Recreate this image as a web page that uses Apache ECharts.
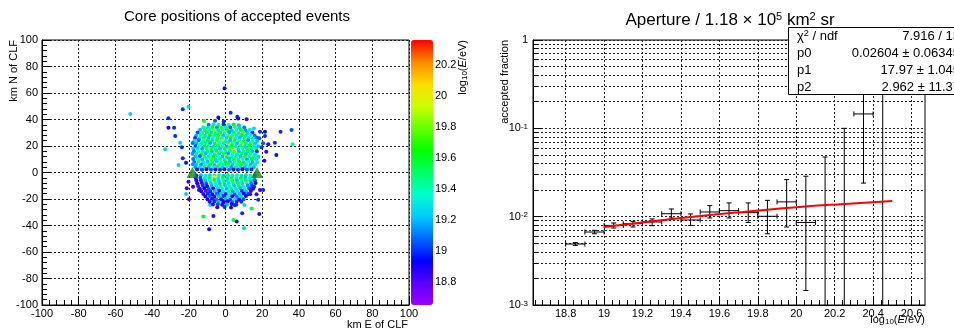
<!DOCTYPE html>
<html><head><meta charset="utf-8">
<script src="https://cdn.jsdelivr.net/npm/echarts@6/dist/echarts.min.js"></script>
<style>html,body{margin:0;padding:0;background:#fff}#c{width:954px;height:332px}</style>
</head><body><div id="c"></div>
<script>
// ---------------- DATA ----------------
// Detector sites (km E, km N)
const sitePositions = [[-18.0, 0.0], [17.2, 0.0]];
// Events: [km E of CLF, km N of CLF, log10(E/eV)]
const outlierEvents = [
[-51.9,44.2,19.25],[-23.3,47.7,19.0],[-20.2,49.7,19.25],[-0.5,63.5,18.95],[-31.1,40.9,19.0],[-31.1,33.8,18.9],
[-28.0,33.8,19.0],[-27.4,27.5,19.0],[-24.7,22.5,19.25],[-23.8,19.0,19.0],[-32.9,17.5,19.25],[-23.3,10.7,19.0],
[-25.6,5.7,19.25],[-21.5,7.4,18.95],[2.8,45.1,19.0],[6.4,42.1,19.0],[6.9,40.8,18.95],[-3.9,41.6,18.95],
[-1.0,38.4,19.0],[-11.7,38.9,19.6],[-5.7,39.1,19.05],[11.5,40.1,18.85],[15.5,33.3,19.25],[18.8,30.8,19.0],
[21.5,30.8,18.95],[21.5,27.5,19.0],[18.4,25.8,19.05],[30.0,30.8,19.0],[36.0,32.1,19.05],[36.5,21.3,19.45],
[26.9,22.5,19.0],[20.5,22.0,19.05],[23.3,21.3,18.85],[27.7,13.2,18.95],[22.2,15.7,18.85],[19.6,19.0,19.0],
[17.8,11.9,19.25],[21.2,8.9,18.85],[8.8,28.3,20.3],
[-21.1,-11.9,18.85],[-20.2,-6.9,18.85],[-21.5,-16.2,19.25],[-17.7,-10.7,18.85],[-14.5,-13.2,19.0],[-19.9,-20.2,18.85],
[-8.4,-24.5,19.25],[-6.6,-32.8,18.85],[-12.1,-33.3,19.6],[-8.9,-42.9,18.95],[-1.0,-22.8,19.0],[4.9,-24.5,19.0],
[9.1,-30.8,19.0],[10.3,-24.5,19.25],[14.2,-27.1,19.55],[18.4,-31.3,18.85],[4.3,-35.8,19.55],[6.1,-37.0,18.85],
[10.1,-42.1,19.25],[18.8,-13.2,18.85],[20.5,-13.2,19.0],[15.6,-10.7,19.0],[16.9,-16.5,18.85],[17.8,-20.5,19.0],
[13.4,-16.5,18.85],[15.1,-5.7,19.55],[-3.9,-16.2,18.85]
];
const upperCoreEvents = [
[-9.2,36.0,19.1],[-6.5,36.4,19.3],[-3.8,35.8,19.5],[-1.1,36.3,19.0],[1.7,35.9,19.35],[4.4,36.2,19.6],[7.3,35.7,19.2],
[-12.1,34.1,19.45],[-9.6,33.8,19.25],[-7.2,34.3,19.6],[-4.7,34.0,19.15],[-2.3,33.7,19.7],[0.2,34.2,19.3],[2.6,33.9,19.05],[5.1,34.4,19.5],[7.6,33.8,19.25],[10.2,34.0,19.1],
[-13.8,32.2,19.2],[-11.3,31.9,19.55],[-8.8,32.4,19.35],[-6.4,32.0,19.8],[-3.9,31.8,19.25],[-1.5,32.3,19.45],[1.0,32.1,19.6],[3.4,31.7,19.2],[5.9,32.2,19.4],[8.4,32.0,19.65],[10.9,31.8,19.15],[13.2,32.3,19.3],
[-15.2,30.1,19.05],[-12.7,29.8,19.3],[-10.2,30.3,19.6],[-7.8,30.0,19.25],[-5.3,29.7,19.5],[-2.9,30.2,19.7],[-0.4,29.9,19.35],[2.1,30.4,19.15],[4.6,30.0,19.55],[7.0,29.8,19.3],[9.5,30.3,19.75],[12.0,29.9,19.2],[14.6,30.1,19.0],
[-16.0,28.0,19.2],[-13.6,28.3,19.45],[-11.1,27.8,19.25],[-8.6,28.1,19.65],[-6.2,27.9,19.3],[-3.7,28.4,19.55],[-1.3,28.0,19.2],[1.2,27.7,19.75],[3.7,28.2,19.4],[6.1,27.9,19.3],[8.6,28.1,19.6],[11.1,27.8,19.25],[13.5,28.3,19.45],[15.9,28.0,19.1],
[-16.6,26.1,19.0],[-14.2,25.8,19.3],[-11.8,26.3,19.55],[-9.3,26.0,19.2],[-6.9,25.7,19.4],[-4.4,26.2,19.7],[-2.0,25.9,19.35],[0.5,26.4,19.25],[2.9,26.0,19.6],[5.4,25.8,19.45],[7.8,26.3,19.2],[10.3,25.9,19.5],[12.7,26.1,19.3],[15.1,25.8,19.25],[17.2,26.2,19.05],
[-17.0,24.0,19.3],[-14.6,24.3,19.1],[-12.2,23.8,19.4],[-9.7,24.1,19.65],[-7.3,23.9,19.25],[-4.8,24.4,19.5],[-2.4,24.0,19.85],[0.1,23.7,19.3],[2.5,24.2,19.2],[5.0,23.9,19.55],[7.4,24.1,19.35],[9.9,23.8,19.6],[12.3,24.3,19.15],[14.8,24.0,19.4],[17.3,23.8,19.2],
[-15.8,22.1,19.2],[-13.3,21.8,19.5],[-10.9,22.3,19.3],[-8.4,22.0,19.15],[-5.9,21.7,19.6],[-3.5,22.2,19.35],[-1.0,21.9,19.25],[1.4,22.4,19.7],[3.9,22.0,19.45],[6.3,21.8,19.2],[8.8,22.3,19.8],[11.2,21.9,19.3],[13.7,22.1,19.5],[16.1,21.8,19.2],[-17.9,22.2,19.1],
[-16.4,20.0,19.05],[-14.0,20.3,19.35],[-11.5,19.8,19.6],[-9.1,20.1,19.4],[-6.6,19.9,19.25],[-4.2,20.4,19.55],[-1.7,20.0,19.4],[0.8,19.7,19.2],[3.2,20.2,19.6],[5.7,19.9,19.3],[8.1,20.1,19.5],[10.6,19.8,19.25],[13.0,20.3,19.65],[15.5,20.0,19.35],[17.8,19.8,19.2],
[-15.2,18.1,19.25],[-12.8,17.8,19.15],[-10.3,18.3,19.45],[-7.9,18.0,19.7],[-5.4,17.7,19.3],[-3.0,18.2,19.2],[-0.5,17.9,19.6],[2.0,18.4,19.45],[4.4,18.0,19.9],[6.9,17.8,19.25],[9.3,18.3,19.35],[11.8,17.9,19.55],[14.2,18.1,19.3],[16.7,17.8,19.6],[-17.6,18.2,19.25],
[-17.2,16.0,19.1],[-14.8,16.3,19.4],[-12.3,15.8,19.3],[-9.9,16.1,19.55],[-7.4,15.9,19.2],[-5.0,16.4,19.65],[-2.5,16.0,19.35],[-0.1,15.7,19.3],[2.4,16.2,19.5],[4.8,15.9,19.75],[7.3,16.1,19.2],[9.7,15.8,19.4],[12.2,16.3,19.6],[14.6,16.0,19.2],[17.1,15.8,19.0],
[-15.8,14.1,19.3],[-13.3,13.8,19.6],[-10.9,14.3,19.2],[-8.4,14.0,19.35],[-5.9,13.7,19.5],[-3.5,14.2,19.25],[-1.0,13.9,19.7],[1.4,14.4,19.15],[3.9,14.0,19.4],[6.3,13.8,19.3],[8.8,14.3,19.55],[11.2,13.9,19.2],[13.7,14.1,19.45],[16.1,13.8,19.3],[-18.0,14.2,19.15],
[-16.4,12.0,19.2],[-14.0,12.3,19.05],[-11.5,11.8,19.5],[-9.1,12.1,19.3],[-6.6,11.9,19.65],[-4.2,12.4,19.4],[-1.7,12.0,19.2],[0.8,11.7,19.6],[3.2,12.2,19.35],[5.7,11.9,19.45],[8.1,12.1,19.2],[10.6,11.8,19.7],[13.0,12.3,19.3],[15.5,12.0,19.5],[17.9,11.8,19.25],
[-15.2,10.1,19.35],[-12.8,9.8,19.2],[-10.3,10.3,19.4],[-7.9,10.0,19.75],[-5.4,9.7,19.25],[-3.0,10.2,19.5],[-0.5,9.9,19.3],[2.0,10.4,19.2],[4.4,10.0,19.55],[6.9,9.8,19.3],[9.3,10.3,19.4],[11.8,9.9,19.15],[14.2,10.1,19.6],[16.7,9.8,19.3],[-17.6,10.2,19.1],
[-17.0,8.0,19.1],[-14.6,8.3,19.45],[-12.2,7.8,19.3],[-9.7,8.1,19.2],[-7.3,7.9,19.55],[-4.8,8.4,19.25],[-2.4,8.0,19.4],[0.1,7.7,19.65],[2.5,8.2,19.2],[5.0,7.9,19.35],[7.4,8.1,19.6],[9.9,7.8,19.25],[12.3,8.3,19.4],[14.8,8.0,19.2],[17.3,7.8,19.3],
[-15.8,6.1,19.25],[-13.3,5.8,19.15],[-10.9,6.3,19.35],[-8.4,6.0,19.6],[-5.9,5.7,19.2],[-3.5,6.2,19.45],[-1.0,5.9,19.3],[1.4,6.4,19.55],[3.9,6.0,19.25],[6.3,5.8,19.4],[8.8,6.3,19.7],[11.2,5.9,19.3],[13.7,6.1,19.2],[16.1,5.8,19.5],[-17.8,6.2,19.15],
[-16.5,4.2,19.15],[-14.0,3.9,19.3],[-11.6,4.4,19.5],[-9.1,4.1,19.2],[-6.7,3.8,19.35],[-4.2,4.3,19.6],[-1.8,4.0,19.25],[0.7,4.5,19.4],[3.1,4.1,19.15],[5.6,3.9,19.5],[8.0,4.4,19.3],[10.5,4.0,19.2],[12.9,4.2,19.45],[15.4,3.9,19.2],
[-15.5,2.3,18.95],[-12.8,2.0,19.0],[-10.4,2.4,18.9],[-7.9,2.1,19.05],[-5.5,2.3,18.95],[-3.0,2.0,19.0],[-0.6,2.4,18.85],[1.9,2.1,19.1],[4.3,2.3,18.95],[6.8,2.0,19.0],[9.2,2.4,18.9],[11.7,2.1,19.05],[14.1,2.3,19.0]
];
const lowerCoreEvents = [
[-15.8,-2.3,19.0],[-13.4,-2.0,19.2],[-10.9,-2.4,19.35],[-8.5,-2.1,19.25],[-6.0,-2.3,19.5],[-3.6,-2.0,19.4],[-1.1,-2.4,19.2],[1.3,-2.1,19.55],[3.8,-2.3,19.3],[6.2,-2.0,19.45],[8.7,-2.4,19.25],[11.1,-2.1,19.6],[13.6,-2.3,19.3],[16.0,-2.0,19.1],
[-16.2,-4.2,18.9],[-13.7,-3.9,19.05],[-11.3,-4.4,19.3],[-8.8,-4.1,19.55],[-6.0,-3.5,19.95],[-3.9,-4.3,19.3],[-1.5,-4.0,19.6],[1.0,-4.4,19.25],[3.4,-4.1,19.5],[5.9,-3.9,19.35],[8.3,-4.3,19.65],[10.8,-4.0,19.2],[13.2,-4.2,19.4],[15.7,-3.9,19.25],
[-15.9,-6.1,18.85],[-13.4,-5.8,19.0],[-11.0,-6.3,19.2],[-8.5,-6.0,19.35],[-6.1,-5.7,19.6],[-3.6,-6.2,19.25],[-1.2,-5.9,19.45],[1.3,-6.4,19.3],[3.7,-6.0,19.7],[6.2,-5.8,19.2],[8.6,-6.3,19.4],[11.1,-5.9,19.55],[13.5,-6.1,19.25],[16.0,-5.8,19.05],
[-15.4,-8.2,18.9],[-12.9,-7.9,18.85],[-10.5,-8.4,19.05],[-8.0,-8.1,19.25],[-5.6,-7.8,19.4],[-3.1,-8.3,19.2],[-0.7,-8.0,19.55],[1.8,-8.4,19.3],[4.2,-8.1,19.45],[6.7,-7.9,19.6],[9.1,-8.3,19.25],[11.6,-8.0,19.35],[14.0,-8.2,19.1],[16.3,-7.9,18.95],
[-14.9,-10.1,18.8],[-12.4,-9.8,19.0],[-10.0,-10.3,18.9],[-7.5,-10.0,19.2],[-5.1,-9.7,19.3],[-2.6,-10.2,19.5],[-0.2,-9.9,19.25],[2.3,-10.4,19.4],[4.7,-10.0,19.2],[7.2,-9.8,19.55],[9.6,-10.3,19.3],[12.1,-9.9,19.15],[14.5,-10.1,19.0],
[-14.0,-12.2,18.85],[-11.6,-11.9,18.95],[-9.1,-12.4,19.05],[-6.7,-12.1,18.9],[-4.2,-11.8,19.25],[-1.8,-12.3,19.35],[0.7,-12.0,19.2],[3.1,-12.4,19.5],[5.6,-12.1,19.3],[8.0,-11.9,19.2],[10.5,-12.3,19.4],[12.9,-12.0,19.0],[15.0,-12.2,18.9],
[-13.2,-14.1,18.9],[-10.7,-13.8,18.8],[-8.3,-14.3,19.0],[-5.8,-14.0,19.2],[-3.4,-13.7,18.95],[-0.9,-14.2,19.3],[1.5,-13.9,19.45],[4.0,-14.4,19.15],[6.4,-14.0,19.3],[8.9,-13.8,19.0],[11.3,-14.3,19.2],[13.8,-14.0,18.85],
[-12.1,-16.2,18.85],[-9.7,-15.9,19.0],[-7.2,-16.4,18.9],[-4.8,-16.1,19.1],[-2.3,-15.8,19.25],[0.1,-16.3,18.95],[2.6,-16.0,19.3],[5.0,-16.4,19.05],[7.5,-16.1,19.2],[9.9,-15.9,18.9],[12.4,-16.2,19.0],
[-11.0,-18.1,18.9],[-8.5,-17.8,19.05],[-6.1,-18.3,18.85],[-3.6,-18.0,19.2],[-1.2,-17.7,19.0],[1.3,-18.2,19.35],[3.7,-17.9,18.95],[6.2,-18.4,19.1],[8.6,-18.0,19.25],[11.1,-17.8,18.9],
[-9.8,-20.2,18.95],[-7.3,-19.9,18.85],[-4.9,-20.4,19.1],[-2.4,-20.1,18.9],[0.0,-19.8,19.2],[2.5,-20.3,19.0],[4.9,-20.0,19.3],[7.4,-20.4,18.9],[9.8,-20.1,19.05],
[-8.6,-22.1,18.85],[-6.1,-21.8,19.0],[-3.7,-22.3,19.2],[-1.2,-22.0,18.95],[1.2,-21.7,18.9],[3.7,-22.2,19.1],[6.1,-21.9,18.85],[8.6,-22.1,19.0],
[-6.9,-24.2,18.9],[-4.2,-23.9,19.05],[-1.8,-24.4,18.85],[0.8,-24.1,19.2],[3.3,-23.8,18.95],[5.9,-24.3,19.0],
[-4.5,-26.3,18.85],[-0.5,-26.0,19.0],[3.0,-26.4,18.9]
];
const colorbarTicks = [18.8, 19.0, 19.2, 19.4, 19.6, 19.8, 20.0, 20.2];

// Aperture panel
const binCenters = [18.85, 18.95, 19.05, 19.15, 19.25, 19.35, 19.45, 19.55, 19.65, 19.75, 19.85, 19.95, 20.05, 20.15, 20.25, 20.35, 20.45];
const fracValues = [0.0049, 0.0067, 0.00796, 0.00832, 0.0087, 0.0108, 0.00917, 0.0113, 0.0117, 0.0111, 0.0101, 0.0147, 0.0086, 0, 0, 0.1455, 0];
const fracLow    = [0.00471, 0.00641, 0.00744, 0.00764, 0.0079, 0.00966, 0.00796, 0.00966, 0.00966, 0.0086, 0.0064, 0.00764, 0.00146, 0, 0, 0.024, 0];
const fracHigh   = [0.00509, 0.0070, 0.00848, 0.00885, 0.00942, 0.01222, 0.01074, 0.01334, 0.01432, 0.01432, 0.0153, 0.0263, 0.0287, 0.0474, 0.1, 1, 1];
const binHalfWidth = 0.05;
const fitX = [19.0, 19.25, 19.5, 19.75, 20.0, 20.25, 20.5];
const fitY = [0.00764, 0.00889, 0.01019, 0.01146, 0.01279, 0.01393, 0.0150];
const xTicksRight = [18.8, 19.0, 19.2, 19.4, 19.6, 19.8, 20.0, 20.2, 20.4, 20.6];
const statsLabels = ['χ{sup|2} / ndf', 'p0', 'p1', 'p2'];
const statsValues = ['7.916 / 13', '0.02604 ± 0.06345', '17.97 ± 1.045', '2.962 ± 11.37'];

// ---------------- CHART ----------------
const FONT = '"Liberation Sans", Arial, Helvetica, sans-serif';
const palette = ['#9a00ff', '#5a00ff', '#0000ff', '#0066ff', '#00ccff', '#00ffcc', '#00ff66', '#00ff00', '#66ff00', '#ccff00', '#ffdd00', '#ff8800', '#ff0000'];
const dotted = {type: [2, 2], color: '#222', width: 1};
const lbl = {color: '#000', fontSize: 11, fontFamily: FONT, showMinLabel: true, showMaxLabel: true};

const xMinorRight = [];
for (let k = 0; k <= 50; k++) {
  const v = +(18.64 + 0.04 * k).toFixed(2);
  const r = v / 0.2;
  if (Math.abs(r - Math.round(r)) > 1e-6) xMinorRight.push(v);
}
const yMinorLog = [];
[-3, -2, -1].forEach(e => { for (let m = 2; m <= 9; m++) yMinorLog.push(e + Math.log10(m)); });

const leftEvents = outlierEvents.concat(upperCoreEvents, lowerCoreEvents);
const errData = binCenters.map((x, i) => [x, fracValues[i], fracLow[i], fracHigh[i]]);
const fitData = fitX.map((x, i) => [x, fitY[i]]);

const chart = echarts.init(document.getElementById('c'));
const supRich = {sup: {fontSize: 8, fontFamily: FONT, verticalAlign: 'top', color: '#000'}};
const axLine = {show: true, onZero: false, lineStyle: {color: '#000'}};

const option = {
  animation: false,
  backgroundColor: '#fff',
  grid: [
    {left: 42, top: 40, width: 367, height: 265, show: true, borderColor: '#000', borderWidth: 1, backgroundColor: 'transparent', containLabel: false, outerBoundsMode: 'none'},
    {left: 411, top: 40, width: 22, height: 265, show: false, containLabel: false, outerBoundsMode: 'none'},
    {left: 533, top: 40, width: 392, height: 265, show: true, borderColor: '#000', borderWidth: 1, backgroundColor: 'transparent', containLabel: false, outerBoundsMode: 'none'}
  ],
  xAxis: [
    {gridIndex: 0, type: 'value', min: -100, max: 100, interval: 20, position: 'bottom',
     axisLine: axLine, axisTick: {show: true, inside: true, length: 9, lineStyle: {color: '#000'}},
     minorTick: {show: true, splitNumber: 5, length: 5, lineStyle: {color: '#000'}},
     splitLine: {show: true, lineStyle: dotted}, axisLabel: Object.assign({margin: 3}, lbl)},
    {gridIndex: 1, type: 'value', min: 0, max: 1, show: false},
    {gridIndex: 2, type: 'value', min: 18.63, max: 20.67, position: 'bottom',
     axisLine: axLine,
     axisTick: {show: true, inside: true, length: 9, customValues: xTicksRight, lineStyle: {color: '#000'}},
     splitLine: {show: true, lineStyle: dotted},
     axisLabel: Object.assign({margin: 3, customValues: xTicksRight, formatter: v => String(Math.round(v * 10) / 10)}, lbl)},
    {gridIndex: 2, type: 'value', min: 18.63, max: 20.67, position: 'bottom', offset: 0,
     axisLine: {show: false, onZero: false}, axisLabel: {show: false}, splitLine: {show: false},
     axisTick: {show: true, inside: true, length: 5, customValues: xMinorRight, lineStyle: {color: '#000'}}}
  ],
  yAxis: [
    {gridIndex: 0, type: 'value', min: -100, max: 100, interval: 20, position: 'left',
     axisLine: axLine, axisTick: {show: true, inside: true, length: 9, lineStyle: {color: '#000'}},
     minorTick: {show: true, splitNumber: 5, length: 5, lineStyle: {color: '#000'}},
     splitLine: {show: true, lineStyle: dotted}, axisLabel: Object.assign({margin: 4}, lbl)},
    {gridIndex: 1, type: 'value', min: 18.65, max: 20.36, position: 'right',
     axisLine: {show: false, onZero: false},
     axisTick: {show: true, inside: true, length: 8, customValues: colorbarTicks, lineStyle: {color: '#000'}},
     splitLine: {show: false},
     axisLabel: Object.assign({margin: 2, customValues: colorbarTicks, formatter: v => String(Math.round(v * 10) / 10)}, lbl)},
    {gridIndex: 2, type: 'log', logBase: 10, min: 0.001, max: 1, position: 'left',
     axisLine: axLine,
     axisTick: {show: true, inside: true, length: 10, lineStyle: {color: '#000'}},
     splitLine: {show: true, lineStyle: dotted},
     axisLabel: Object.assign({margin: 5, rich: supRich, formatter: v => {
        const e = Math.round(Math.log10(v));
        return e === 0 ? '1' : '10{sup|' + e + '}';
     }}, lbl)},
    {gridIndex: 2, type: 'value', min: -3, max: 0, position: 'left', offset: 0,
     axisLine: {show: false, onZero: false}, axisLabel: {show: false},
     axisTick: {show: true, inside: true, length: 5, customValues: yMinorLog, lineStyle: {color: '#000'}},
     splitLine: {show: true, lineStyle: dotted}}
  ],
  visualMap: [{
    type: 'continuous', min: 18.65, max: 20.36, dimension: 2, seriesIndex: 0,
    inRange: {color: palette}, orient: 'vertical', left: 411, top: 40,
    itemWidth: 22, itemHeight: 265, calculable: false, padding: 0, hoverLink: false
  }],
  series: [
    {type: 'scatter', xAxisIndex: 0, yAxisIndex: 0, data: leftEvents, symbol: 'circle', symbolSize: 4,
     itemStyle: {opacity: 1}, clip: true, z: 3},
    {type: 'scatter', xAxisIndex: 0, yAxisIndex: 0, data: sitePositions, symbol: 'triangle', symbolSize: [12, 11],
     itemStyle: {color: '#108a10'}, z: 5},
    {type: 'custom', xAxisIndex: 2, yAxisIndex: 2, data: errData, clip: true, z: 3,
     encode: {x: 0, y: 3},
     renderItem: function (params, api) {
       const cs = params.coordSys;
       const top = cs.y, bottom = cs.y + cs.height;
       const x = api.value(0), v = api.value(1), lo = api.value(2), hi = api.value(3);
       const px = api.coord([x, hi])[0];
       const pxl = api.coord([x - binHalfWidth, hi])[0];
       const pxr = api.coord([x + binHalfWidth, hi])[0];
       const clampY = y => Math.max(top, Math.min(bottom, y));
       const yHi = clampY(api.coord([x, hi])[1]);
       const yLo = lo > 0 ? clampY(api.coord([x, lo])[1]) : bottom;
       const st = {stroke: '#000', lineWidth: 1};
       const ch = [];
       const cap = 2.5;
       ch.push({type: 'line', shape: {x1: px, y1: yHi, x2: px, y2: yLo}, style: st});
       if (yHi > top + 0.5) ch.push({type: 'line', shape: {x1: px - cap, y1: yHi, x2: px + cap, y2: yHi}, style: st});
       if (lo > 0 && yLo < bottom - 0.5) ch.push({type: 'line', shape: {x1: px - cap, y1: yLo, x2: px + cap, y2: yLo}, style: st});
       if (v > 0) {
         const yv = api.coord([x, v])[1];
         ch.push({type: 'line', shape: {x1: pxl, y1: yv, x2: pxr, y2: yv}, style: st});
         ch.push({type: 'line', shape: {x1: pxl, y1: yv - cap, x2: pxl, y2: yv + cap}, style: st});
         ch.push({type: 'line', shape: {x1: pxr, y1: yv - cap, x2: pxr, y2: yv + cap}, style: st});
       }
       return {type: 'group', children: ch};
     }},
    {type: 'line', xAxisIndex: 2, yAxisIndex: 2, data: fitData, smooth: true, symbol: 'none',
     lineStyle: {color: '#ff0000', width: 2}, z: 4}
  ],
  graphic: [
    {type: 'text', x: 237, y: 17, z: 100, style: {text: 'Core positions of accepted events', font: '15px ' + FONT, fill: '#000', align: 'center', verticalAlign: 'middle'}},
    {type: 'text', x: 730, y: 20, z: 100, style: {text: 'Aperture / 1.18 × 10{sup|5} km{sup|2} sr', font: '17px ' + FONT, fill: '#000', align: 'center', verticalAlign: 'middle',
      rich: {sup: {fontSize: 11, fontFamily: FONT, verticalAlign: 'top', fill: '#000'}}}},
    {type: 'text', x: 14, y: 40, rotation: Math.PI / 2, z: 100, style: {text: 'km N of CLF', font: '11px ' + FONT, fill: '#000', align: 'right', verticalAlign: 'middle'}},
    {type: 'text', x: 408, y: 325, z: 100, style: {text: 'km E of CLF', font: '11px ' + FONT, fill: '#000', align: 'right', verticalAlign: 'middle'}},
    {type: 'text', x: 463, y: 40, rotation: Math.PI / 2, z: 100, style: {text: 'log{sub|10}({it|E}/eV)', font: '11px ' + FONT, fill: '#000', align: 'right', verticalAlign: 'middle',
      rich: {sub: {fontSize: 8, fontFamily: FONT, verticalAlign: 'bottom', fill: '#000'}, it: {fontSize: 11, fontFamily: FONT, fontStyle: 'italic', fill: '#000'}}}},
    {type: 'text', x: 505, y: 40, rotation: Math.PI / 2, z: 100, style: {text: 'accepted fraction', font: '11px ' + FONT, fill: '#000', align: 'right', verticalAlign: 'middle'}},
    {type: 'text', x: 925, y: 320, z: 100, style: {text: 'log{sub|10}({it|E}/eV)', font: '11px ' + FONT, fill: '#000', align: 'right', verticalAlign: 'middle',
      rich: {sub: {fontSize: 8, fontFamily: FONT, verticalAlign: 'bottom', fill: '#000'}, it: {fontSize: 11, fontFamily: FONT, fontStyle: 'italic', fill: '#000'}}}},
    {type: 'rect', z: 100, shape: {x: 788.5, y: 27.5, width: 200, height: 67}, style: {fill: '#fff', stroke: '#000', lineWidth: 1}}
  ].concat(statsLabels.map((t, i) => ({type: 'text', x: 797, y: 36 + i * 17, z: 101,
      style: {text: t, font: '13px ' + FONT, fill: '#000', align: 'left', verticalAlign: 'middle', rich: {sup: {fontSize: 9, fontFamily: FONT, verticalAlign: 'top', fill: '#000'}}}})))
   .concat(statsValues.map((t, i) => ({type: 'text', x: 960, y: 36 + i * 17, z: 101,
      style: {text: t, font: '13px ' + FONT, fill: '#000', align: 'right', verticalAlign: 'middle'}})))
};
chart.setOption(option);
</script>
</body></html>
